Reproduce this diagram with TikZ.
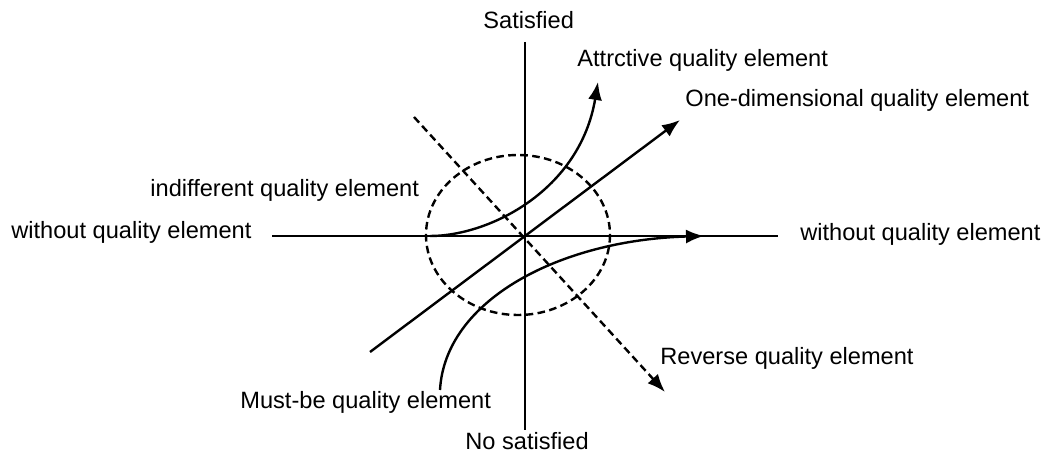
\documentclass[tikz,border=0pt]{standalone}
\usepackage{fontspec}
\setmainfont{Liberation Sans}
\usetikzlibrary{arrows.meta}

\begin{document}
\begin{tikzpicture}[
  x=0.5pt, y=-0.5pt,
  axis/.style={draw=black, line width=1pt},
  curve/.style={draw=black, line width=1.2pt, -{Latex[length=9pt,width=7pt]}},
  dashcurve/.style={curve, dash pattern=on 3.8pt off 2.2pt},
  ring/.style={draw=black, line width=1.2pt, dash pattern=on 3.8pt off 2.2pt},
  lab/.style={font=\fontsize{11.8}{14}\selectfont, inner sep=0pt, anchor=west,
    text height=1.6ex, text depth=0.45ex}
]
\useasboundingbox (0,0) rectangle (1045,459);
% axes
\coordinate (O) at (525,236);
\coordinate (xl) at (272,236);
\coordinate (xr) at (778,236);
\coordinate (yt) at (525,42);
\coordinate (yb) at (525,430);
\draw[axis] (xl) -- (xr);
\draw[axis] (yt) -- (yb);
% indifferent zone
\draw[ring] (518,235) ellipse [x radius=92, y radius=80];
% labels
\node[lab] (sat) at (483,22) {Satisfied};
\node[lab] (nosat) at (465,443) {No satisfied};
\node[lab] (attr) at (577,60) {Attrctive quality element};
\node[lab] (onedim) at (685,100) {One-dimensional quality element};
\node[lab] (indiff) at (150,190) {indifferent quality element};
\node[lab] (woL) at (11,232) {without quality element};
\node[lab] (woR) at (800,234) {without quality element};
\node[lab] (rev) at (660,358) {Reverse quality element};
\node[lab] (must) at (240,402) {Must-be quality element};
% curve ends
\coordinate (attS) at (430,236);
\coordinate (attE) at (598,82);
\coordinate (oneS) at (370,352);
\coordinate (oneE) at (680,120);
\coordinate (mustS) at (440,390);
\coordinate (mustE) at (704,236);
\coordinate (revS) at (414,117);
\coordinate (revE) at (665,392);
\draw[curve, -] (xl) -- (attS);
\draw[curve] (attS) .. controls (490,236) and (580,190) .. (attE);
\draw[curve] (oneS) -- (oneE);
\draw[curve] (mustS) .. controls (445,300) and (560,240) .. (mustE);
\draw[dashcurve] (revS) -- (revE);
\end{tikzpicture}
\end{document}
